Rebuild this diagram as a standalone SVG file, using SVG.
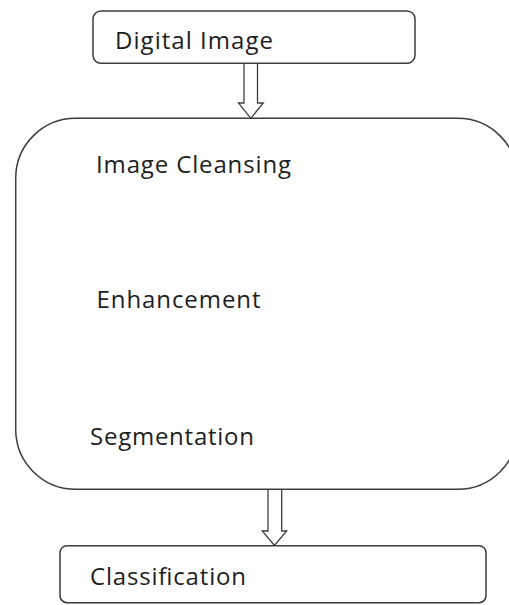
<svg xmlns="http://www.w3.org/2000/svg" width="509" height="605" viewBox="0 0 509 605">
  <style>
    .box { fill: #ffffff; stroke: #3c3c3c; stroke-width: 1.5; }
    .arrow { fill: #ffffff; stroke: #3c3c3c; stroke-width: 1.3; stroke-linejoin: miter; }
    .label { font-family: "Open Sans", "Noto Sans", "Liberation Sans", sans-serif; font-size: 24px; fill: #1e1e1e; }
  </style>
  <rect width="509" height="605" fill="#ffffff"/>

  <!-- block arrows between stages -->
  <g id="connectors">
    <path class="arrow" d="M244,63.5 L244,103 L238.5,103 L250.8,118.3 L263.3,103 L257.5,103 L257.5,63.5"/>
    <path class="arrow" d="M268,489.3 L268,531 L262.3,531 L274.4,545.5 L286.7,531 L281.7,531 L281.7,489.3"/>
  </g>

  <g id="digital-image">
    <rect class="box" x="93" y="11" width="322" height="52.3" rx="8" ry="8"/>
    <text class="label" x="115" y="49" textLength="158" lengthAdjust="spacing">Digital Image</text>
  </g>

  <g id="processing">
    <rect class="box" x="15.7" y="118.3" width="502" height="371" rx="60" ry="60"/>
    <text class="label" x="96" y="172.5" textLength="195" lengthAdjust="spacing">Image Cleansing</text>
    <text class="label" x="96.5" y="308" textLength="164" lengthAdjust="spacing">Enhancement</text>
    <text class="label" x="90" y="445" textLength="164" lengthAdjust="spacing">Segmentation</text>
  </g>

  <g id="classification">
    <rect class="box" x="60" y="545.7" width="426" height="57" rx="7" ry="7"/>
    <text class="label" x="90" y="585" textLength="156" lengthAdjust="spacing">Classification</text>
  </g>
</svg>
